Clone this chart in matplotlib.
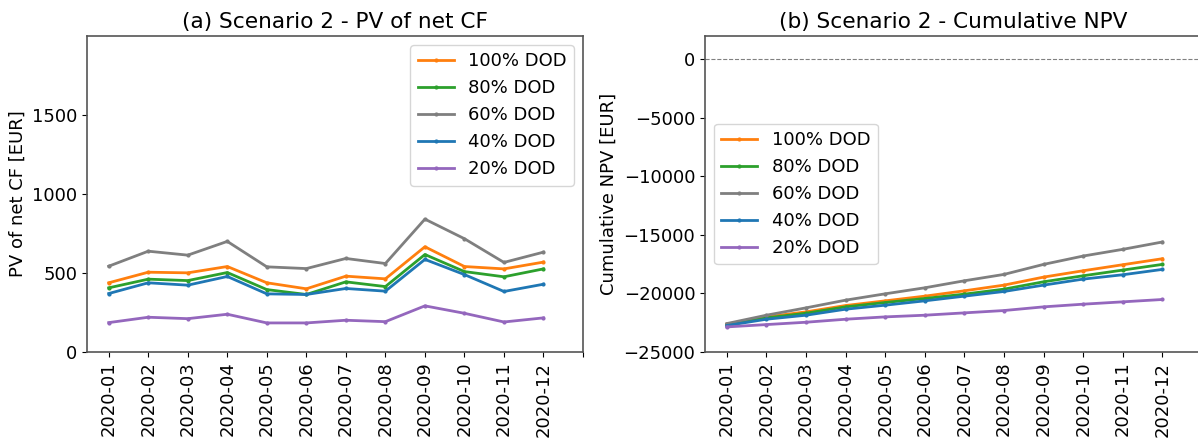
import numpy as np
import matplotlib
matplotlib.use("Agg")
import matplotlib.pyplot as plt

# Data
months = ["2020-01", "2020-02", "2020-03", "2020-04", "2020-05", "2020-06",
          "2020-07", "2020-08", "2020-09", "2020-10", "2020-11", "2020-12"]
labels = ["100% DOD", "80% DOD", "60% DOD", "40% DOD", "20% DOD"]
colors = ["tab:orange", "tab:green", "tab:gray", "tab:blue", "tab:purple"]

# (a) PV of net CF [EUR]
pv_100 = [438, 505, 501, 541, 438, 400, 480, 463, 666, 541, 526, 569]
pv_80 = [406, 461, 452, 503, 395, 364, 444, 414, 617, 509, 476, 526]
pv_60 = [543, 638, 613, 700, 539, 528, 592, 560, 841, 717, 567, 632]
pv_40 = [370, 438, 423, 478, 368, 364, 402, 385, 586, 490, 383, 429]
pv_20 = [186, 220, 211, 239, 184, 184, 201, 192, 292, 245, 190, 216]

# (b) Cumulative NPV [EUR]
npv_100 = [-22629, -22000, -21571, -21029, -20629, -20229, -19771, -19286, -18600, -18057, -17543, -17029]
npv_80 = [-22686, -22086, -21686, -21143, -20771, -20429, -20057, -19629, -19000, -18486, -18000, -17514]
npv_60 = [-22571, -21857, -21229, -20571, -20029, -19514, -18914, -18371, -17514, -16800, -16229, -15600]
npv_40 = [-22743, -22200, -21857, -21343, -21000, -20629, -20229, -19829, -19286, -18771, -18400, -17943]
npv_20 = [-22857, -22657, -22457, -22200, -22000, -21857, -21657, -21457, -21143, -20914, -20714, -20514]

pv_series = [pv_100, pv_80, pv_60, pv_40, pv_20]
npv_series = [npv_100, npv_80, npv_60, npv_40, npv_20]

plt.rcParams["font.size"] = 13
plt.rcParams["axes.edgecolor"] = "#555555"
plt.rcParams["axes.linewidth"] = 1.2

fig = plt.figure(figsize=(11.98, 4.40), dpi=100)
W, H = 1198, 440
ax1 = fig.add_axes([87 / W, 1 - 352 / H, (583 - 87) / W, (352 - 36) / H])
ax2 = fig.add_axes([705 / W, 1 - 352 / H, (1202 - 705) / W, (352 - 36) / H])

x = np.arange(len(months))
ticks = np.arange(len(months) + 1)
ticklabels = months + [""]

for vals, lab, c in zip(pv_series, labels, colors):
    ax1.plot(x, vals, color=c, lw=2, marker=".", ms=4, label=lab)
ax1.set_xlim(-0.55, 12)
ax1.set_ylim(0, 2000)
ax1.set_yticks([0, 500, 1000, 1500])
ax1.set_xticks(ticks)
ax1.set_xticklabels(ticklabels, rotation=90)
ax1.set_ylabel("PV of net CF [EUR]")
ax1.set_title("(a) Scenario 2 - PV of net CF")
ax1.legend(loc="upper right")

ax2.axhline(0, color="gray", lw=0.8, ls="--")
for vals, lab, c in zip(npv_series, labels, colors):
    ax2.plot(x, vals, color=c, lw=2, marker=".", ms=4, label=lab)
ax2.set_xlim(-0.55, 12)
ax2.set_ylim(-25000, 2000)
ax2.set_yticks([0, -5000, -10000, -15000, -20000, -25000])
ax2.set_xticks(ticks)
ax2.set_xticklabels(ticklabels, rotation=90)
ax2.set_ylabel("Cumulative NPV [EUR]")
ax2.set_title("(b) Scenario 2 - Cumulative NPV")
ax2.legend(loc="center left")

fig.savefig("out.png", dpi=100)
